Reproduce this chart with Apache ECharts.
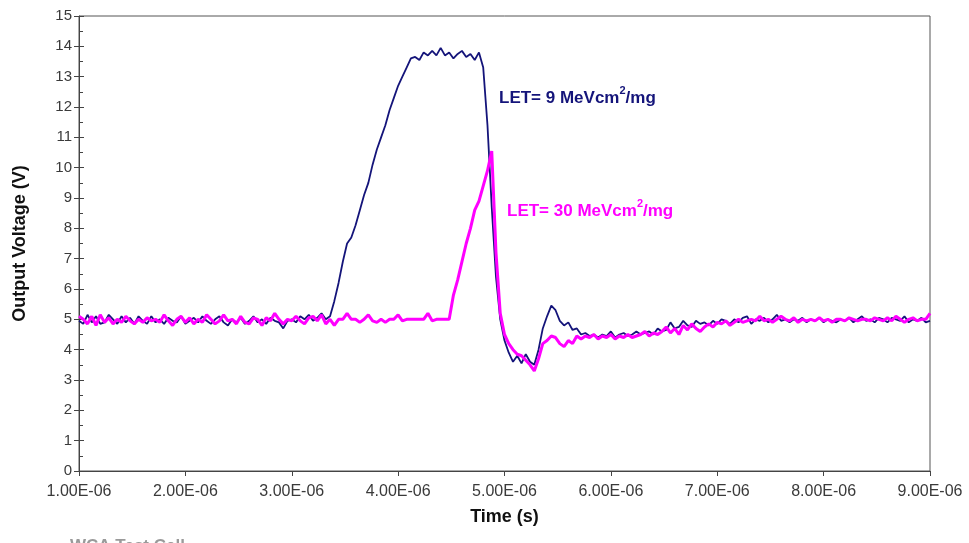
<!DOCTYPE html>
<html>
<head>
<meta charset="utf-8">
<script src="https://cdn.jsdelivr.net/npm/echarts@6/dist/echarts.min.js"></script>
<style>
html,body{margin:0;padding:0;background:#fff;}
#chart{width:969px;height:543px;}
</style>
</head>
<body>
<div id="chart"></div>
<script>
// Time samples in microseconds (axis labels shown as x.xxE-06 s)
const timeUs = [
1.00,1.04,1.08,1.12,1.16,1.20,1.24,1.28,1.32,1.36,
1.40,1.44,1.48,1.52,1.56,1.60,1.64,1.68,1.72,1.76,
1.80,1.84,1.88,1.92,1.96,2.00,2.04,2.08,2.12,2.16,
2.20,2.24,2.28,2.32,2.36,2.40,2.44,2.48,2.52,2.56,
2.60,2.64,2.68,2.72,2.76,2.80,2.84,2.88,2.92,2.96,
3.00,3.04,3.08,3.12,3.16,3.20,3.24,3.28,3.32,3.36,
3.40,3.44,3.48,3.52,3.56,3.60,3.64,3.68,3.72,3.76,
3.80,3.84,3.88,3.92,3.96,4.00,4.04,4.08,4.12,4.16,
4.20,4.24,4.28,4.32,4.36,4.40,4.44,4.48,4.52,4.56,
4.60,4.64,4.68,4.72,4.76,4.80,4.84,4.88,4.92,4.96,
5.00,5.04,5.08,5.12,5.16,5.20,5.24,5.28,5.32,5.36,
5.40,5.44,5.48,5.52,5.56,5.60,5.64,5.68,5.72,5.76,
5.80,5.84,5.88,5.92,5.96,6.00,6.04,6.08,6.12,6.16,
6.20,6.24,6.28,6.32,6.36,6.40,6.44,6.48,6.52,6.56,
6.60,6.64,6.68,6.72,6.76,6.80,6.84,6.88,6.92,6.96,
7.00,7.04,7.08,7.12,7.16,7.20,7.24,7.28,7.32,7.36,
7.40,7.44,7.48,7.52,7.56,7.60,7.64,7.68,7.72,7.76,
7.80,7.84,7.88,7.92,7.96,8.00,8.04,8.08,8.12,8.16,
8.20,8.24,8.28,8.32,8.36,8.40,8.44,8.48,8.52,8.56,
8.60,8.64,8.68,8.72,8.76,8.80,8.84,8.88,8.92,8.96,
9.00
];

// LET = 9 MeVcm2/mg (navy)
const let9Volts = [
4.95,4.85,5.15,4.9,5.1,4.85,4.9,5.15,5.0,4.85,
5.1,4.9,5.05,4.85,5.1,4.95,4.85,5.1,4.9,5.0,
4.85,5.05,4.95,4.9,5.1,4.85,4.95,5.05,4.9,5.1,
4.95,4.85,5.0,5.1,4.9,4.8,5.0,4.9,5.05,4.85,
4.95,5.1,4.9,5.0,4.85,5.05,4.95,4.9,4.7,4.95,
5.0,4.9,5.1,5.0,5.15,4.95,5.05,5.2,5.0,
5.1,5.6,6.2,6.9,7.5,7.7,8.1,8.6,9.1,9.5,
10.1,10.6,11.0,11.4,11.9,12.3,12.7,13.0,13.3,13.6,
13.65,13.55,13.8,13.7,13.85,13.7,13.95,13.7,13.8,13.6,
13.75,13.85,13.65,13.75,13.55,13.8,13.3,11.4,8.7,6.4,
5.0,4.3,3.9,3.6,3.8,3.55,3.85,3.6,3.5,4.0,
4.7,5.1,5.45,5.3,4.95,4.8,4.9,4.65,4.7,4.5,
4.55,4.45,4.5,4.4,4.5,4.45,4.6,4.4,4.5,4.55,
4.45,4.5,4.6,4.5,4.55,4.6,4.5,4.7,4.6,4.65,
4.9,4.7,4.75,4.95,4.8,4.75,4.95,4.85,4.9,4.8,
4.95,4.85,5.0,4.95,4.85,5.0,4.9,5.05,5.1,4.85,
5.0,4.95,5.05,4.9,5.0,5.15,4.95,5.0,4.9,5.0,
4.95,5.05,4.9,5.0,4.95,5.05,4.9,5.0,4.95,4.9,
5.0,4.95,5.05,4.9,5.0,5.1,4.95,5.0,4.9,5.05,
5.0,4.9,5.05,5.0,4.95,5.1,4.9,5.0,4.95,5.05,
4.9,4.95
];

// LET = 30 MeVcm2/mg (magenta)
const let30Volts = [
5.1,5.0,4.85,5.1,4.8,5.15,4.9,5.05,4.85,5.0,
4.9,5.1,4.95,4.85,5.0,4.9,5.05,4.95,5.0,4.9,
5.15,4.95,4.8,5.0,5.1,4.9,5.05,4.85,5.0,4.9,
5.15,5.0,4.85,4.95,5.15,4.95,5.0,4.85,5.1,4.9,
4.85,5.05,5.0,4.8,5.05,4.95,5.2,5.0,4.85,5.0,
4.95,5.1,4.95,4.85,5.05,5.1,4.95,5.15,4.85,5.0,
4.8,5.0,5.0,5.2,5.0,5.0,4.9,5.0,5.15,4.95,
4.9,5.0,4.9,5.0,5.0,5.15,4.95,5.0,5.0,5.0,
5.0,5.0,5.2,4.95,5.0,5.0,5.0,
5.0,5.8,6.3,6.9,7.5,8.0,8.6,8.9,9.4,9.9,
10.55,7.2,5.2,4.5,4.2,4.0,3.85,3.8,3.65,3.5,
3.3,3.7,4.2,4.3,4.45,4.4,4.2,4.1,4.3,4.2,
4.45,4.35,
4.45,4.4,4.5,4.35,4.45,4.4,4.5,4.35,4.45,4.4,
4.5,4.4,4.45,4.5,4.6,4.45,4.55,4.5,4.6,4.75,
4.55,4.7,4.5,4.8,4.65,4.85,4.7,4.6,4.75,4.85,
4.75,4.9,4.85,4.95,4.8,4.9,5.0,4.9,4.95,5.0,
4.95,5.1,4.95,5.0,4.9,5.0,5.1,5.0,4.95,5.05,
4.9,5.0,4.95,5.0,4.95,5.05,4.95,5.0,4.9,5.0,
5.0,4.95,5.05,5.0,4.95,5.0,5.0,4.95,5.05,5.0,
4.95,5.05,4.95,5.1,5.0,4.9,5.0,5.05,4.95,5.0,
5.0,5.2
];

const xTickLabels = ['1.00E-06','2.00E-06','3.00E-06','4.00E-06','5.00E-06','6.00E-06','7.00E-06','8.00E-06','9.00E-06'];
const yTickLabels = ['0','1','2','3','4','5','6','7','8','9','10','11','12','13','14','15'];

const navy = '#14147a';
const magenta = '#ff00ff';
const font = 'Liberation Sans, Arial, sans-serif';

const chart = echarts.init(document.getElementById('chart'), null, {renderer: 'canvas'});

const pairs = (vals) => vals.map((v, i) => [timeUs[i], v]);

chart.setOption({
  animation: false,
  backgroundColor: '#ffffff',
  grid: {left: 79, top: 16, right: 39, bottom: 72, show: true, borderColor: '#555', borderWidth: 1, backgroundColor: 'transparent'},
  xAxis: {
    type: 'value', min: 1, max: 9, interval: 1,
    name: 'Time (s)', nameLocation: 'middle', nameGap: 37,
    nameTextStyle: {fontFamily: font, fontWeight: 'bold', fontSize: 18, color: '#111'},
    axisLine: {show: true, lineStyle: {color: '#444', width: 1}},
    axisTick: {show: true, length: 5, lineStyle: {color: '#444'}},
    axisLabel: {fontFamily: font, fontSize: 16, color: '#3a3a3a', margin: 13,
      formatter: (v) => xTickLabels[Math.round(v) - 1]},
    splitLine: {show: false}
  },
  yAxis: [{
    type: 'value', min: 0, max: 15, interval: 1,
    name: 'Output Voltage (V)', nameLocation: 'middle', nameGap: 50, nameRotate: 90,
    nameTextStyle: {fontFamily: font, fontWeight: 'bold', fontSize: 18, color: '#111'},
    axisLine: {show: true, lineStyle: {color: '#444', width: 1}},
    axisTick: {show: true, length: 5, lineStyle: {color: '#444'}},
    axisLabel: {fontFamily: font, fontSize: 15, color: '#3a3a3a', margin: 7,
      formatter: (v) => yTickLabels[Math.round(v)]},
    splitLine: {show: false}
  }, {
    type: 'value', min: 0, max: 15, interval: 1, position: 'left',
    axisLine: {show: false},
    axisTick: {show: true, inside: true, length: 5, lineStyle: {color: '#444'}},
    minorTick: {show: true, splitNumber: 2, length: 4, lineStyle: {color: '#444'}},
    axisLabel: {show: false},
    splitLine: {show: false}
  }],
  series: [{
    name: 'LET= 9', type: 'line', showSymbol: false, symbol: 'none',
    data: pairs(let9Volts),
    lineStyle: {color: navy, width: 1.8},
    z: 3
  }, {
    name: 'LET= 30', type: 'line', showSymbol: false, symbol: 'none',
    data: pairs(let30Volts),
    lineStyle: {color: magenta, width: 3},
    z: 4
  }],
  graphic: [{
    type: 'text', left: 499, top: 85,
    style: {
      text: '{a|LET= 9 MeVcm}{s|2}{a|/mg}',
      rich: {
        a: {fontFamily: font, fontWeight: 'bold', fontSize: 17, fill: navy, verticalAlign: 'bottom', lineHeight: 22},
        s: {fontFamily: font, fontWeight: 'bold', fontSize: 11, fill: navy, verticalAlign: 'top', lineHeight: 22, padding: [0, 0, 9, 0]}
      }
    }
  }, {
    type: 'text', left: 507, top: 198,
    style: {
      text: '{a|LET= 30 MeVcm}{s|2}{a|/mg}',
      rich: {
        a: {fontFamily: font, fontWeight: 'bold', fontSize: 17, fill: magenta, verticalAlign: 'bottom', lineHeight: 22},
        s: {fontFamily: font, fontWeight: 'bold', fontSize: 11, fill: magenta, verticalAlign: 'top', lineHeight: 22, padding: [0, 0, 9, 0]}
      }
    }
  }, {
    type: 'text', left: 70, top: 538,
    style: {text: 'WCA Test Cell', fontFamily: font, fontWeight: 'bold', fontSize: 17, fill: '#9a9a9a'}
  }]
});
</script>
</body>
</html>
